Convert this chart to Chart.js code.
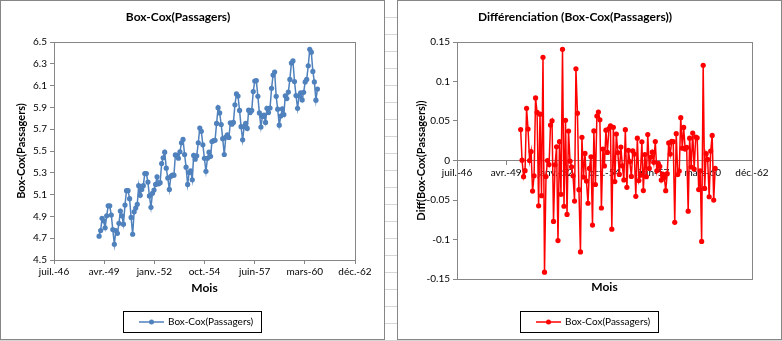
<!DOCTYPE html>
<html>
<head>
<meta charset="utf-8">
<script src="https://cdn.jsdelivr.net/npm/chart.js@4.4.1/dist/chart.umd.min.js"></script>
<style>
  body {
    margin: 0;
    width: 782px;
    height: 341px;
    background-color: #fff;
    background-image: repeating-linear-gradient(to bottom, transparent 0, transparent 16px, #d6d6d6 16px, #d6d6d6 17px);
    background-position: 0 1px;
    position: relative;
    overflow: hidden;
  }
  .box {
    position: absolute;
    top: 0;
    width: 383px;
    height: 338px;
    border: 1px solid #868686;
    background: #fff;
  }
  .box canvas { display: block; }
</style>
</head>
<body>
<div class="box" style="left:0"><canvas id="left" width="383" height="338"></canvas></div>
<div class="box" style="left:397px"><canvas id="right" width="383" height="338"></canvas></div>
<script>
// Box-Cox (lambda = 0) of the monthly passenger counts, janv. 1949 - déc. 1960
var boxcox = [
  4.7185, 4.7707, 4.8828, 4.8598, 4.7958, 4.9053, 4.9972, 4.9972, 4.9127, 4.7791, 4.6444, 4.7707,
  4.7449, 4.8363, 4.9488, 4.9053, 4.8283, 5.0039, 5.1358, 5.1358, 5.0626, 4.8903, 4.7362, 4.9416,
  4.9767, 5.0106, 5.1818, 5.0938, 5.1475, 5.1818, 5.2933, 5.2933, 5.2149, 5.0876, 4.9836, 5.1120,
  5.1417, 5.1930, 5.2627, 5.1985, 5.2095, 5.3845, 5.4381, 5.4889, 5.3423, 5.2523, 5.1475, 5.2679,
  5.2781, 5.2781, 5.4638, 5.4596, 5.4337, 5.4931, 5.5759, 5.6058, 5.4681, 5.3519, 5.1930, 5.3033,
  5.3181, 5.2364, 5.4596, 5.4250, 5.4553, 5.5759, 5.7104, 5.6802, 5.5568, 5.4337, 5.3132, 5.4337,
  5.4889, 5.4510, 5.5872, 5.5947, 5.5984, 5.7526, 5.8972, 5.8493, 5.7430, 5.6131, 5.4681, 5.6276,
  5.6490, 5.6240, 5.7589, 5.7462, 5.7621, 5.9243, 6.0234, 6.0039, 5.8721, 5.7236, 5.6021, 5.7236,
  5.7526, 5.7071, 5.8749, 5.8522, 5.8721, 6.0450, 6.1420, 6.1463, 6.0014, 5.8493, 5.7203, 5.8171,
  5.8289, 5.7621, 5.8916, 5.8522, 5.8944, 6.0753, 6.1964, 6.2246, 6.0014, 5.8833, 5.7366, 5.8201,
  5.8861, 5.8348, 6.0064, 5.9814, 6.0403, 6.1570, 6.3063, 6.3261, 6.1377, 6.0088, 5.8916, 6.0039,
  6.0331, 5.9687, 6.0379, 6.1334, 6.1570, 6.2823, 6.4329, 6.4069, 6.2305, 6.1334, 5.9661, 6.0684
];

// differenced series (lag 1 and lag 12), févr. 1950 - déc. 1960
var diffBoxcox = [
           0.0392, 0.0004, -0.0205, -0.0129, 0.0661, 0.0399, 0.0000, 0.0114, -0.0387, -0.0194, 0.0792,
  0.0608, -0.0574, 0.0587, -0.0445, 0.1307, -0.1413, -0.0203, 0.0000, -0.0052, 0.0449, 0.0502, -0.0771,
  -0.0054, 0.0174, -0.1014, 0.0238, -0.0428, 0.1407, -0.0579, 0.0509, -0.0682, 0.0373, -0.0008, -0.0080,
  -0.0194, -0.0513, 0.1160, 0.0599, -0.0369, -0.1157, 0.0293, -0.0210, 0.0089, -0.0261, -0.0541, -0.0100,
  0.0046, -0.0817, 0.0374, -0.0304, 0.0562, 0.0613, 0.0516, -0.0601, 0.0144, -0.0069, 0.0384, 0.0102,
  0.0404, 0.0438, -0.0869, 0.0421, -0.0267, 0.0335, 0.0101, -0.0176, 0.0170, -0.0068, -0.0246, 0.0390,
  -0.0339, 0.0129, -0.0013, -0.0202, 0.0121, 0.0081, -0.0454, 0.0283, -0.0254, -0.0187, 0.0236, -0.0381,
  0.0076, -0.0205, 0.0329, -0.0100, 0.0041, 0.0107, -0.0022, 0.0239, -0.0131, -0.0036, -0.0075, -0.0247,
  -0.0172, -0.0214, -0.0382, -0.0167, 0.0223, 0.0081, 0.0241, 0.0238, -0.0782, 0.0340, -0.0177, -0.0133,
  0.0542, 0.0156, 0.0419, 0.0145, 0.0166, -0.0642, 0.0282, -0.0082, 0.0347, -0.0108, 0.0296, 0.0287,
  -0.0368, -0.0131, -0.1024, 0.1205, -0.0353, 0.0086, 0.0014, -0.0459, 0.0120, 0.0318, -0.0501, -0.0100
];

// date axis ticks (Excel serial days 17000 .. 23000, step 1000)
var dateTicks = ['juil.-46', 'avr.-49', 'janv.-52', 'oct.-54', 'juin-57', 'mars-60', 'déc.-62'];
var boxcoxTicks = [4.5, 4.7, 4.9, 5.1, 5.3, 5.5, 5.7, 5.9, 6.1, 6.3, 6.5];
var diffTicks = [-0.15, -0.1, -0.05, 0, 0.05, 0.1, 0.15];

// months as Excel serial numbers (1st of each month)
var months = [];
for (var yr = 1949; yr <= 1960; yr++) {
  for (var mo = 0; mo < 12; mo++) {
    months.push(Math.round((Date.UTC(yr, mo, 1) - Date.UTC(1899, 11, 30)) / 86400000));
  }
}
var diffMonths = months.slice(months.length - diffBoxcox.length);

var FONT = 'Lato, "Liberation Sans", sans-serif';
var AXIS_GREY = '#868686';

function points(xs, ys) {
  return ys.map(function (v, i) { return {x: xs[i], y: v}; });
}

// grey frame round the plot area
var plotFrame = {
  id: 'plotFrame',
  beforeDatasetsDraw: function (chart) {
    var a = chart.chartArea, ctx = chart.ctx;
    ctx.save();
    ctx.strokeStyle = AXIS_GREY;
    ctx.lineWidth = 1;
    ctx.strokeRect(Math.round(a.left) + 0.5, Math.round(a.top) + 0.5,
      Math.round(a.right - a.left), Math.round(a.bottom - a.top));
    ctx.restore();
  }
};

// boxed legend under the axis title
var boxLegend = {
  id: 'boxLegend',
  afterDraw: function (chart, args, opts) {
    var ctx = chart.ctx, ds = chart.data.datasets[0];
    ctx.save();
    ctx.font = '10px ' + FONT;
    var tw = ctx.measureText(ds.label).width;
    var w = Math.round(16 + 25 + 4 + tw + 8), h = 21;
    var x = Math.round((chart.width - w) / 2) - 1, y = opts.top;
    ctx.strokeStyle = '#000';
    ctx.lineWidth = 1;
    ctx.strokeRect(x + 0.5, y + 0.5, w, h);
    var cy = y + 11;
    ctx.strokeStyle = ds.borderColor;
    ctx.lineWidth = 1.5;
    ctx.beginPath();
    ctx.moveTo(x + 16, cy);
    ctx.lineTo(x + 41, cy);
    ctx.stroke();
    ctx.fillStyle = ds.borderColor;
    ctx.beginPath();
    ctx.arc(x + 28.5, cy, 2.5, 0, Math.PI * 2);
    ctx.fill();
    ctx.fillStyle = '#000';
    ctx.textBaseline = 'middle';
    ctx.fillText(ds.label, x + 45, cy);
    ctx.restore();
  }
};

function lineDataset(label, color, data) {
  return {
    label: label,
    data: data,
    xAxisID: 'x',
    yAxisID: 'y',
    borderColor: color,
    backgroundColor: color,
    borderWidth: 1.5,
    tension: 0,
    pointRadius: 2.6,
    pointBorderWidth: 0,
    pointBackgroundColor: color
  };
}

function titleOpts(text) {
  return {
    display: true,
    text: text,
    color: '#000',
    font: {family: FONT, size: 12, weight: 'bold'},
    padding: {top: 9, bottom: 17.6}
  };
}

function dateAxis(position) {
  return {
    type: 'linear',
    position: position,
    min: 17000,
    max: 23000,
    ticks: {
      stepSize: 1000,
      autoSkip: false,
      maxRotation: 0,
      padding: 2,
      color: '#000',
      font: {family: FONT, size: 10},
      callback: function (v, i) { return dateTicks[i]; }
    },
    grid: {drawOnChartArea: false, tickLength: 4, color: AXIS_GREY},
    border: {color: AXIS_GREY}
  };
}

function valueAxis(ticks, decimals, width, titleText, titlePad) {
  return {
    type: 'linear',
    min: ticks[0],
    max: ticks[ticks.length - 1],
    afterBuildTicks: function (scale) {
      scale.ticks = ticks.map(function (v) { return {value: v}; });
    },
    ticks: {
      padding: 3,
      color: '#000',
      font: {family: FONT, size: 10},
      callback: function (v) { return decimals ? v.toFixed(decimals) : String(Number(v.toFixed(2))); }
    },
    grid: {drawOnChartArea: false, tickLength: 4, color: AXIS_GREY},
    border: {color: AXIS_GREY},
    title: {
      display: true,
      text: titleText,
      color: '#000',
      font: {family: FONT, size: 11, weight: 'bold'},
      padding: {top: titlePad, bottom: 0}
    },
    afterFit: function (scale) { scale.width = width; }
  };
}

var mois = {
  display: true,
  text: 'Mois',
  color: '#000',
  font: {family: FONT, size: 12, weight: 'bold'},
  padding: {top: 0, bottom: 5}
};

// left: transformed series
var leftX = dateAxis('bottom');
leftX.title = mois;
leftX.afterFit = function (scale) { scale.height = 40; };

new Chart(document.getElementById('left'), {
  type: 'line',
  data: {datasets: [lineDataset('Box-Cox(Passagers)', '#4F81BD', points(months, boxcox))]},
  options: {
    responsive: false,
    animation: false,
    layout: {padding: {left: 0, right: 29, top: 0, bottom: 39}},
    plugins: {
      title: titleOpts('Box-Cox(Passagers)'),
      legend: {display: false},
      tooltip: {enabled: false},
      boxLegend: {top: 310}
    },
    scales: {
      x: leftX,
      y: valueAxis(boxcoxTicks, 1, 53, 'Box-Cox(Passagers)', 14)
    }
  },
  plugins: [plotFrame, boxLegend]
});

// right: differenced series, date axis crossing at 0
var rightX = dateAxis({y: 0});

new Chart(document.getElementById('right'), {
  type: 'line',
  data: {datasets: [lineDataset('Box-Cox(Passagers)', '#FF0000', points(diffMonths, diffBoxcox))]},
  options: {
    responsive: false,
    animation: false,
    layout: {padding: {left: 0, right: 29, top: 0, bottom: 40}},
    plugins: {
      title: titleOpts('Différenciation (Box-Cox(Passagers))'),
      legend: {display: false},
      tooltip: {enabled: false},
      boxLegend: {top: 310}
    },
    scales: {
      x: rightX,
      xTitle: {
        type: 'linear',
        position: 'bottom',
        ticks: {display: false},
        grid: {display: false},
        border: {display: false},
        title: mois,
        afterFit: function (scale) { scale.height = 20; }
      },
      y: valueAxis(diffTicks, 0, 59, 'Diff(Box-Cox(Passagers))', 17)
    }
  },
  plugins: [plotFrame, boxLegend]
});
</script>
</body>
</html>
